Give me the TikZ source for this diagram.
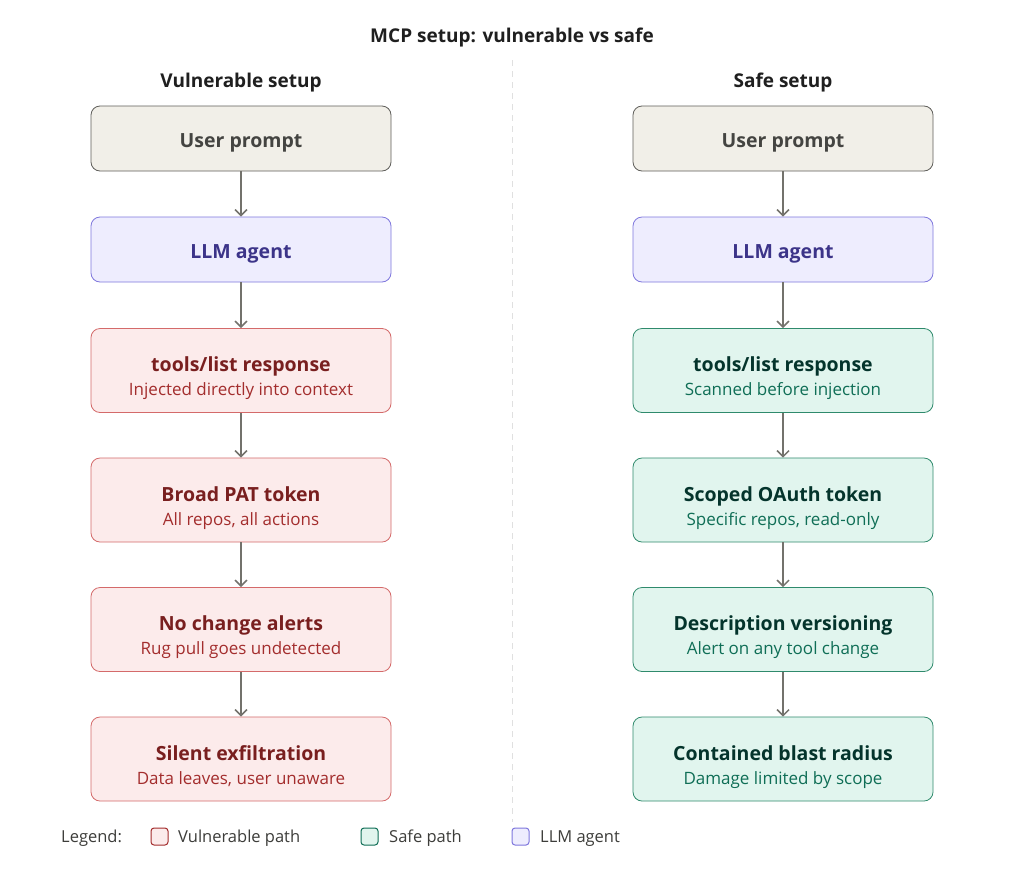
\documentclass[tikz,border=0pt]{standalone}
\usepackage{fontspec}
\setmainfont{Open Sans}
\usetikzlibrary{arrows.meta}
\definecolor{ugfill}{HTML}{F1EFE8}
\definecolor{ugdraw}{HTML}{5F5E5A}
\definecolor{ugtext}{HTML}{444441}
\definecolor{llfill}{HTML}{EEEDFE}
\definecolor{lldraw}{HTML}{7F77DD}
\definecolor{lltext}{HTML}{3C3489}
\definecolor{vfill}{HTML}{FCEBEB}
\definecolor{vdraw}{HTML}{D46A6A}
\definecolor{vtitle}{HTML}{791F1F}
\definecolor{vsub}{HTML}{A32D2D}
\definecolor{sfill}{HTML}{E1F5EE}
\definecolor{sdraw}{HTML}{2F8A6C}
\definecolor{stitle}{HTML}{04342C}
\definecolor{ssub}{HTML}{0F6E56}
\definecolor{arrowc}{HTML}{73726C}
\definecolor{headc}{HTML}{1F1F1F}
\definecolor{legc}{HTML}{3D3D3A}
\tikzset{
  box/.style={draw, rounded corners=9pt, line width=0.8pt, minimum width=300pt, inner sep=0pt},
  single/.style={box, minimum height=65pt},
  double/.style={box, minimum height=84pt},
  userbox/.style={single, fill=ugfill, draw=ugdraw},
  llmbox/.style={single, fill=llfill, draw=lldraw},
  vulnbox/.style={double, fill=vfill, draw=vdraw},
  safebox/.style={double, fill=sfill, draw=sdraw},
  ttl/.style={anchor=base, inner sep=0pt, font=\fontsize{19.5}{23}\selectfont\bfseries},
  sub/.style={anchor=base, inner sep=0pt, font=\fontsize{17}{20}\selectfont},
  flow/.style={draw=arrowc, line width=1.5pt, -{Straight Barb[length=6pt,width=12pt,line width=1.5pt]}},
  heading/.style={anchor=base, inner sep=0pt, font=\fontsize{19}{23}\selectfont\bfseries, text=headc},
  legsq/.style={draw, rounded corners=3pt, line width=1pt, minimum width=17pt, minimum height=17pt, inner sep=0pt},
  legtext/.style={font=\fontsize{16.5}{20}\selectfont, text=legc, anchor=base west, inner sep=0pt}
}
\begin{document}
\begin{tikzpicture}[x=1pt,y=-1pt]
\useasboundingbox[fill=white] (0,0) rectangle (1024,873);
\node[heading, font=\fontsize{19}{23}\selectfont\bfseries] (title) at (512,42) {MCP setup: vulnerable vs safe};
\draw[draw=black!12, line width=1pt, dash pattern=on 6pt off 5pt] (512,60) coordinate (divtop) -- (512,822) coordinate (divbot);
\node[heading] (hv) at (241,87) {Vulnerable setup};
\node[heading] (hs) at (783,87) {Safe setup};
% left column
\node[userbox] (v1) at (241,138.5) {};
\node[llmbox] (v2) at (241,249.5) {};
\node[vulnbox] (v3) at (241,370.5) {};
\node[vulnbox] (v4) at (241,500) {};
\node[vulnbox] (v5) at (241,629.5) {};
\node[vulnbox] (v6) at (241,759) {};
% right column
\node[userbox] (s1) at (783,138.5) {};
\node[llmbox] (s2) at (783,249.5) {};
\node[safebox] (s3) at (783,370.5) {};
\node[safebox] (s4) at (783,500) {};
\node[safebox] (s5) at (783,629.5) {};
\node[safebox] (s6) at (783,759) {};
% texts
\foreach \c in {v,s}{
  \node[ttl, text=ugtext] (\c1t) at ([yshift=-8.5pt]\c1.center) {User prompt};
  \node[ttl, text=lltext] (\c2t) at ([yshift=-8.5pt]\c2.center) {LLM agent};
}
\node[ttl, text=vtitle] (v3t) at ([yshift=-1pt]v3.center) {tools/list response};
\node[sub, text=vsub] (v3s) at ([yshift=-25pt]v3.center) {Injected directly into context};
\node[ttl, text=vtitle] (v4t) at ([yshift=-1pt]v4.center) {Broad PAT token};
\node[sub, text=vsub] (v4s) at ([yshift=-25pt]v4.center) {All repos, all actions};
\node[ttl, text=vtitle] (v5t) at ([yshift=-1pt]v5.center) {No change alerts};
\node[sub, text=vsub] (v5s) at ([yshift=-25pt]v5.center) {Rug pull goes undetected};
\node[ttl, text=vtitle] (v6t) at ([yshift=-1pt]v6.center) {Silent exfiltration};
\node[sub, text=vsub] (v6s) at ([yshift=-25pt]v6.center) {Data leaves, user unaware};
\node[ttl, text=stitle] (s3t) at ([yshift=-1pt]s3.center) {tools/list response};
\node[sub, text=ssub] (s3s) at ([yshift=-25pt]s3.center) {Scanned before injection};
\node[ttl, text=stitle] (s4t) at ([yshift=-1pt]s4.center) {Scoped OAuth token};
\node[sub, text=ssub] (s4s) at ([yshift=-25pt]s4.center) {Specific repos, read-only};
\node[ttl, text=stitle] (s5t) at ([yshift=-1pt]s5.center) {Description versioning};
\node[sub, text=ssub] (s5s) at ([yshift=-25pt]s5.center) {Alert on any tool change};
\node[ttl, text=stitle] (s6t) at ([yshift=-1pt]s6.center) {Contained blast radius};
\node[sub, text=ssub] (s6s) at ([yshift=-25pt]s6.center) {Damage limited by scope};
\foreach \c in {v,s}{
  \draw[flow] (\c1) -- (\c2);
  \draw[flow] (\c2) -- (\c3);
  \draw[flow] (\c3) -- (\c4);
  \draw[flow] (\c4) -- (\c5);
  \draw[flow] (\c5) -- (\c6);
}
% legend
\node[legtext] (leg) at (61,842) {Legend:};
\node[legsq, fill=vfill, draw=vsub] (lq1) at (159.5,836.5) {};
\node[legtext] (lt1) at (178,842) {Vulnerable path};
\node[legsq, fill=sfill, draw=ssub] (lq2) at (369.5,836.5) {};
\node[legtext] (lt2) at (389,842) {Safe path};
\node[legsq, fill=llfill, draw=lldraw] (lq3) at (520.5,836.5) {};
\node[legtext] (lt3) at (540,842) {LLM agent};
\end{tikzpicture}
\end{document}
